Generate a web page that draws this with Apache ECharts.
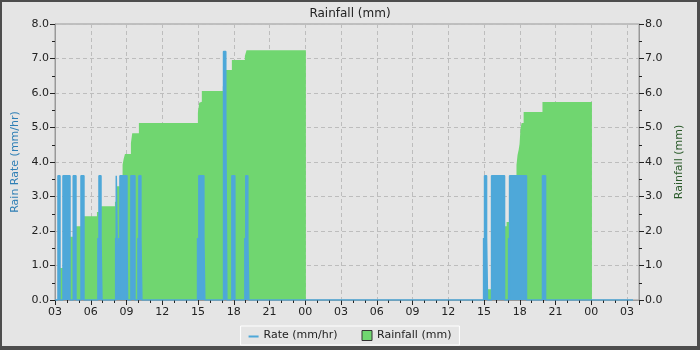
<!DOCTYPE html>
<html>
<head>
<meta charset="utf-8">
<script src="https://cdn.jsdelivr.net/npm/echarts@6/dist/echarts.min.js"></script>
<style>
html,body{margin:0;padding:0;background:#4d4d4d;}
#frame{position:absolute;left:0;top:0;width:700px;height:350px;box-sizing:border-box;border-style:solid;border-color:#4d4d4d;border-width:2px 3px 4px 2px;background:#e5e5e5;}
#chart{position:absolute;left:-2px;top:-2px;width:700px;height:350px;}
</style>
</head>
<body>
<div id="frame"><div id="chart"></div></div>
<script>
// hours since 03:00 on day 1
const xTickLabels = ['03','06','09','12','15','18','21','00','03','06','09','12','15','18','21','00','03'];

// cumulative rainfall (mm), session 1
const rain1Hours  = [0.25, 1.26, 1.72, 2.35, 3.52, 3.69, 5.03, 5.20, 5.45, 5.67, 5.76, 5.87, 6.37, 6.48, 7.04, 11.99, 12.10, 12.21, 12.32, 14.08, 14.17, 14.33, 14.84, 15.93, 16.07];
const rain1Totals = [0.93, 1.83, 2.14, 2.43, 2.55, 2.72, 2.85, 3.30, 3.60, 3.92, 4.09, 4.23, 4.55, 4.83, 5.13, 5.43, 5.72, 5.75, 6.06, 6.18, 6.40, 6.67, 6.96, 7.07, 7.24];
const rain1End = 21.05;
// cumulative rainfall (mm), session 2
const rain2Hours  = [36.21, 36.70, 37.20, 37.60, 37.72, 37.89, 38.14, 38.35, 38.52, 38.72, 38.81, 38.90, 38.98, 39.06, 39.15, 39.32, 40.90];
const rain2Totals = [0.31, 0.60, 1.20, 1.80, 2.14, 2.26, 2.40, 3.00, 3.60, 3.91, 4.20, 4.35, 4.52, 4.98, 5.13, 5.45, 5.74];
const rain2End = 45.05;

// rain rate (mm/hr) blocks
const rateStart = [0.25, 0.67, 1.53, 2.18, 3.60, 3.69, 3.86, 5.09, 5.14, 5.36, 5.45, 6.04, 6.37, 6.96, 7.04, 7.21, 11.96, 12.07, 12.49, 14.14, 14.33, 14.84, 15.93, 16.01, 16.18, 35.96, 36.04, 36.21, 36.63, 38.06, 38.14, 40.90];
const rateEnd   = [0.42, 1.26, 1.76, 2.43, 3.69, 3.86, 3.94, 5.14, 5.28, 5.45, 6.04, 6.09, 6.71, 7.04, 7.21, 7.29, 12.07, 12.49, 12.57, 14.33, 14.42, 15.09, 16.01, 16.18, 16.26, 36.04, 36.21, 36.29, 37.72, 38.14, 39.56, 41.16];
const rateValue = [3.6, 3.6, 3.6, 3.6, 1.8, 3.6, 1.8, 1.8, 3.6, 1.8, 3.6, 1.8, 3.6, 1.8, 3.6, 1.8, 1.8, 3.6, 1.8, 7.2, 5.4, 3.6, 1.8, 3.6, 1.8, 1.8, 3.6, 1.8, 3.6, 1.8, 3.6, 3.6];
const rateSpan = [0, 48.5];

function stepData(hours, totals, end) {
  const d = [[hours[0], totals[0]]];
  for (let i = 1; i < hours.length; i++) {
    d.push([hours[i], totals[i - 1]]);
    d.push([hours[i], totals[i]]);
  }
  d.push([end, totals[totals.length - 1]]);
  return d;
}
function blockData() {
  const d = [[rateSpan[0], 0]];
  for (let i = 0; i < rateStart.length; i++) {
    d.push([rateStart[i], 0], [rateStart[i], rateValue[i]], [rateEnd[i], rateValue[i]], [rateEnd[i], 0]);
  }
  d.push([rateSpan[1], 0]);
  return d;
}

const BLUE = '#4ea8d9';
const GREEN = '#70d670';
const FONT = 'DejaVu Sans';
const chart = echarts.init(document.getElementById('chart'));
const yAxisCommon = {
  type: 'value', min: 0, max: 8, interval: 1,
  axisLine: { show: true, lineStyle: { color: '#999', width: 1 } },
  axisTick: { show: true, length: 5, lineStyle: { color: '#222' } },
  minorTick: { show: true, splitNumber: 2, length: 3, lineStyle: { color: '#222' } },
  axisLabel: { formatter: v => v.toFixed(1), color: '#222', fontFamily: FONT, fontSize: 11, margin: 6 },
  nameLocation: 'middle',
  nameTextStyle: { fontFamily: FONT, fontSize: 11 }
};
chart.setOption({
  animation: false,
  backgroundColor: 'transparent',
  title: { text: 'Rainfall (mm)', left: 'center', top: 3, textStyle: { fontFamily: FONT, fontSize: 12, fontWeight: 'normal', color: '#222' } },
  grid: { left: 55, right: 61, top: 24, bottom: 50, show: true, borderColor: '#999', borderWidth: 1, backgroundColor: 'transparent' },
  legend: {
    top: 326, left: 'center', backgroundColor: '#e5e5e5', borderColor: '#ffffff', borderWidth: 1, borderRadius: 0,
    padding: [4, 8], itemGap: 24, itemWidth: 10, itemHeight: 10,
    textStyle: { fontFamily: FONT, fontSize: 11, color: '#222' },
    data: [
      { name: 'Rate (mm/hr)', icon: 'path://M0,0h0.01v0.01h-0.01z M0,5h10v2h-10z M9.99,9.99h0.01v0.01h-0.01z', itemStyle: { color: BLUE } },
      { name: 'Rainfall (mm)', icon: 'rect', itemStyle: { color: GREEN, borderColor: '#333', borderWidth: 1 } }
    ]
  },
  xAxis: {
    type: 'value', min: 0, max: 49, interval: 3,
    axisLine: { show: true, onZero: false, lineStyle: { color: '#999' } },
    axisTick: { show: true, length: 5, lineStyle: { color: '#222' } },
    minorTick: { show: true, splitNumber: 3, length: 3, lineStyle: { color: '#222' } },
    splitLine: { show: true, lineStyle: { color: '#bdbdbd', type: [4, 3] } },
    axisLabel: { formatter: v => xTickLabels[Math.round(v / 3)] || '', showMaxLabel: false, color: '#222', fontFamily: FONT, fontSize: 11, margin: 7 }
  },
  yAxis: [
    Object.assign({}, yAxisCommon, {
      position: 'left', name: 'Rain Rate (mm/hr)', nameGap: 34,
      nameTextStyle: { fontFamily: FONT, fontSize: 11, color: '#2f7fb5' },
      splitLine: { show: true, lineStyle: { color: '#bdbdbd', type: [4, 3] } }
    }),
    Object.assign({}, yAxisCommon, {
      position: 'right', name: 'Rainfall (mm)', nameGap: 28,
      nameTextStyle: { fontFamily: FONT, fontSize: 11, color: '#2a5a2a' },
      splitLine: { show: false }
    })
  ],
  series: [
    { name: 'Rainfall (mm)', type: 'line', yAxisIndex: 1, data: stepData(rain1Hours, rain1Totals, rain1End), showSymbol: false, symbol: 'none',
      lineStyle: { width: 0, color: GREEN }, itemStyle: { color: GREEN }, areaStyle: { color: GREEN, opacity: 1 }, z: 2 },
    { name: 'Rainfall (mm)', type: 'line', yAxisIndex: 1, data: stepData(rain2Hours, rain2Totals, rain2End), showSymbol: false, symbol: 'none',
      lineStyle: { width: 0, color: GREEN }, itemStyle: { color: GREEN }, areaStyle: { color: GREEN, opacity: 1 }, z: 2 },
    { name: 'Rate (mm/hr)', type: 'line', yAxisIndex: 0, data: blockData(), showSymbol: false, symbol: 'none',
      lineStyle: { width: 1.5, color: BLUE }, itemStyle: { color: BLUE }, areaStyle: { color: BLUE, opacity: 1 }, z: 3 }
  ]
});
</script>
</body>
</html>
